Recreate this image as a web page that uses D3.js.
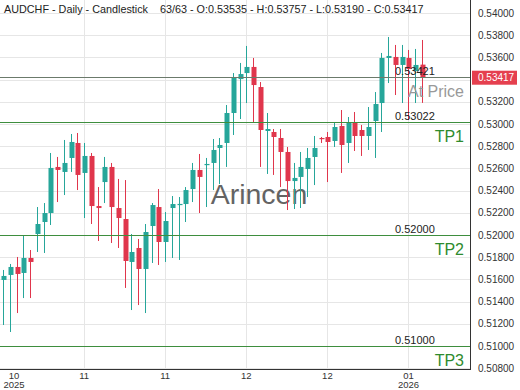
<!DOCTYPE html>
<html><head><meta charset="utf-8">
<script src="https://cdn.jsdelivr.net/npm/d3@7"></script>
<style>body{margin:0;background:#fff;}svg{display:block;font-family:"Liberation Sans",Arial,sans-serif;}</style>
</head><body><svg id="c" width="520" height="390"></svg>
<script>
const opens  = [0.51595,0.51640,0.51712,0.51658,0.51793,0.52009,0.52117,0.52198,0.52613,0.52568,0.52694,0.52829,0.52559,0.52712,0.52261,0.52477,0.52613,0.52243,0.52144,0.51757,0.51883,0.51694,0.52081,0.52252,0.51937,0.52243,0.52270,0.52279,0.52414,0.52586,0.52631,0.52649,0.52784,0.52829,0.53099,0.53405,0.53459,0.53514,0.53333,0.52937,0.52928,0.52874,0.52748,0.52486,0.52523,0.52595,0.52703,0.52874,0.52883,0.52847,0.52982,0.52829,0.53009,0.52946,0.52892,0.53027,0.53189,0.53595,0.53604,0.53532,0.53595,0.53477,0.53535];
const highs  = [0.51685,0.51739,0.51802,0.51991,0.51865,0.52252,0.52288,0.52739,0.52703,0.52856,0.52910,0.52919,0.52829,0.52739,0.52432,0.52703,0.52649,0.52505,0.52495,0.52009,0.51964,0.52099,0.52288,0.52414,0.52207,0.52351,0.52342,0.52432,0.52649,0.52730,0.52694,0.52865,0.52874,0.53171,0.53459,0.53550,0.53703,0.53595,0.53378,0.53099,0.52955,0.52955,0.52793,0.52649,0.52748,0.52784,0.52892,0.52883,0.52928,0.53009,0.53126,0.53063,0.53108,0.52991,0.53153,0.53288,0.53640,0.53784,0.53712,0.53712,0.53667,0.53676,0.53757];
const lows   = [0.51189,0.51126,0.51297,0.51432,0.51432,0.51847,0.51838,0.52090,0.52297,0.52360,0.52568,0.52405,0.52153,0.52099,0.51946,0.52288,0.51928,0.51883,0.51523,0.51324,0.51369,0.51297,0.51748,0.51730,0.51757,0.51793,0.51775,0.52117,0.52297,0.52198,0.52252,0.52405,0.52459,0.52613,0.52901,0.53045,0.53189,0.53009,0.52613,0.52550,0.52541,0.52432,0.52225,0.52234,0.52243,0.52342,0.52450,0.52829,0.52477,0.52793,0.52559,0.52649,0.52757,0.52712,0.52766,0.52694,0.52928,0.53369,0.53261,0.53189,0.53036,0.53189,0.53190];
const closes = [0.51631,0.51712,0.51649,0.51793,0.51757,0.52099,0.52198,0.52604,0.52586,0.52649,0.52838,0.52541,0.52712,0.52261,0.52243,0.52613,0.52252,0.52153,0.51766,0.51847,0.51694,0.52027,0.52270,0.51937,0.52126,0.52279,0.52280,0.52405,0.52586,0.52523,0.52640,0.52766,0.52811,0.53099,0.53423,0.53450,0.53514,0.53351,0.52946,0.52955,0.52883,0.52748,0.52486,0.52514,0.52613,0.52694,0.52784,0.52865,0.52838,0.52973,0.52811,0.53018,0.52892,0.52892,0.52973,0.53180,0.53595,0.53613,0.53532,0.53604,0.53495,0.53532,0.53417];
const yTicks = [0.508,0.510,0.512,0.514,0.516,0.518,0.520,0.522,0.524,0.526,0.528,0.530,0.532,0.534,0.536,0.538,0.540];
const dateTickIdx = [0,12,24,36,48,60];
const dateTickMonth = ["10","11","11","12","12","01"];
const dateTickYear = ["2025","","","","","2026"];
const levels = [
  {value:0.53421, label:"0.53421", name:"At Price", kind:"price"},
  {value:0.53022, label:"0.53022", name:"TP1", kind:"tp"},
  {value:0.52000, label:"0.52000", name:"TP2", kind:"tp"},
  {value:0.51000, label:"0.51000", name:"TP3", kind:"tp"}
];
const lastPrice = 0.53417;
const title = "AUDCHF - Daily - Candlestick    63/63 - O:0.53535 - H:0.53757 - L:0.53190 - C:0.53417";

const W=470, H=369;
const svg = d3.select("#c");
const x = d3.scaleLinear().domain([0,62]).range([3,422]);
const y = d3.scaleLinear().domain([0.508,0.540]).range([368.2,13]);
const up="#26a69a", dn="#e0364c";

// grid
svg.append("g").selectAll("line").data(yTicks).join("line")
  .attr("x1",0).attr("x2",W).attr("y1",d=>Math.round(y(d))+0.5).attr("y2",d=>Math.round(y(d))+0.5)
  .attr("stroke","#e6e6e6");
svg.append("g").selectAll("line").data(dateTickIdx.slice(1)).join("line")
  .attr("x1",d=>Math.round(x(d))+0.5).attr("x2",d=>Math.round(x(d))+0.5).attr("y1",0).attr("y2",H)
  .attr("stroke","#e6e6e6");

// watermark
svg.append("text").attr("x",259).attr("y",204).attr("text-anchor","middle")
  .attr("font-size",28.5).attr("fill","#4a4a4a").attr("opacity",0.85).text("Arincen");

// candles
const idx = d3.range(opens.length);
const g = svg.append("g");
g.selectAll("line").data(idx).join("line")
  .attr("x1",i=>Math.round(x(i))+0.5).attr("x2",i=>Math.round(x(i))+0.5)
  .attr("y1",i=>y(highs[i])).attr("y2",i=>y(lows[i]))
  .attr("stroke",i=>closes[i]>=opens[i]?up:dn).attr("stroke-width",1);
g.selectAll("rect").data(idx).join("rect")
  .attr("x",i=>Math.round(x(i))-1.5).attr("width",5)
  .attr("y",i=>y(Math.max(opens[i],closes[i])))
  .attr("height",i=>Math.max(1.2,Math.abs(y(opens[i])-y(closes[i]))))
  .attr("fill",i=>closes[i]>=opens[i]?up:dn);

// levels
levels.forEach(l=>{
  const yy=Math.round(y(l.value))+0.5;
  const col = l.kind==="price" ? "#6b7a6b" : "#3e8e3e";
  svg.append("line").attr("x1",0).attr("x2",W).attr("y1",yy).attr("y2",yy).attr("stroke",col).attr("stroke-width",1);
  svg.append("text").attr("x",395).attr("y",yy-3).attr("font-size",11).attr("fill","#222").text(l.label);
  svg.append("text").attr("x",464).attr("y",yy+19).attr("text-anchor","end")
    .attr("font-size",16).attr("fill",l.kind==="price"?"#999":"#2e8b2e").text(l.name);
});

// borders
svg.append("line").attr("x1",W+0.5).attr("x2",W+0.5).attr("y1",0).attr("y2",H+1).attr("stroke","#333");
svg.append("line").attr("x1",0).attr("x2",W+1).attr("y1",H+0.5).attr("y2",H+0.5).attr("stroke","#333");

// right axis
svg.append("g").selectAll("text").data(yTicks.filter(d=>Math.abs(d-0.534)>1e-6)).join("text")
  .attr("x",478).attr("y",d=>y(d)+3.5).attr("font-size",10).attr("fill","#333")
  .text(d=>d3.format(".5f")(d));
const py=y(lastPrice);
svg.append("rect").attr("x",472).attr("y",py-7).attr("width",45).attr("height",14).attr("fill","#e5404f");
svg.append("text").attr("x",478).attr("y",py+3.5).attr("font-size",10).attr("fill","#fff").text(d3.format(".5f")(lastPrice));

// date axis
dateTickIdx.forEach((d,k)=>{
  const xx=Math.max(14,x(d));
  svg.append("text").attr("x",xx).attr("y",378.5).attr("text-anchor","middle").attr("font-size",9.5).attr("fill","#333").text(dateTickMonth[k]);
  if(dateTickYear[k]) svg.append("text").attr("x",xx).attr("y",388).attr("text-anchor","middle").attr("font-size",9.5).attr("fill","#333").text(dateTickYear[k]);
});

// header
svg.append("text").attr("x",4).attr("y",13).attr("font-size",10.8).attr("fill","#222")
  .attr("xml:space","preserve").style("white-space","pre").text(title);
</script></body></html>
